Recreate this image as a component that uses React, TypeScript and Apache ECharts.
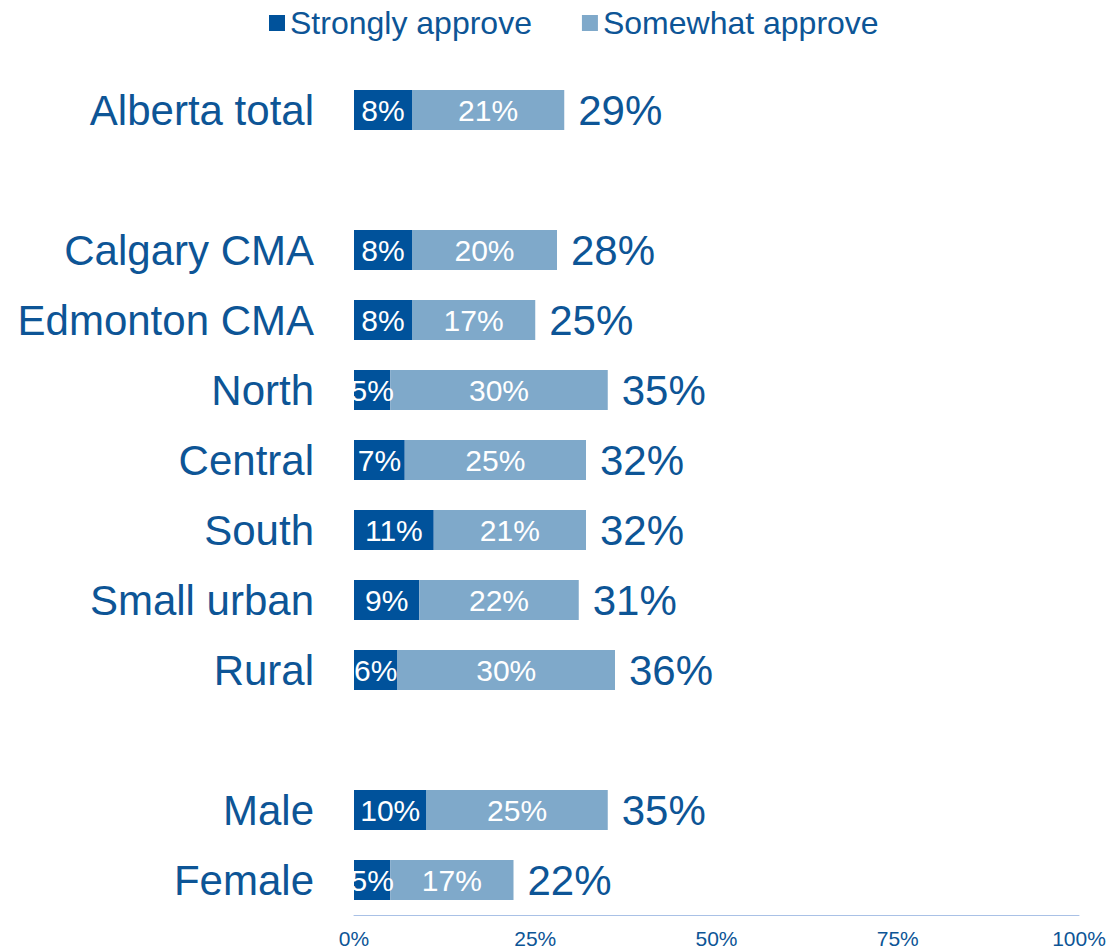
import React, { useEffect, useRef } from "react";
import * as echarts from "echarts";

const categories = [
  "Alberta total",
  " ",
  "Calgary CMA",
  "Edmonton CMA",
  "North",
  "Central",
  "South",
  "Small urban",
  "Rural",
  "  ",
  "Male",
  "Female",
];
const stronglyApprove = [8, null, 8, 8, 5, 7, 11, 9, 6, null, 10, 5];
const somewhatApprove = [21, null, 20, 17, 30, 25, 21, 22, 30, null, 25, 17];
const totals = [29, null, 28, 25, 35, 32, 32, 31, 36, null, 35, 22];
const xTicks = [0, 25, 50, 75, 100];

const TEXT = "#0D5596";
const DARK = "#00529B";
const LIGHT = "#7FA9CA";
const FONT = "'Liberation Sans', Arial, sans-serif";

export default function App() {
  const ref = useRef<HTMLDivElement>(null);
  useEffect(() => {
    if (!ref.current) return;
    const chart = echarts.init(ref.current, null, { renderer: "svg" });
    chart.setOption({
      animation: false,
      textStyle: { fontFamily: FONT },
      legend: {
        top: 2,
        left: 264,
        itemWidth: 16,
        itemHeight: 16,
        itemGap: 50,
        icon: "rect",
        textStyle: { fontSize: 32, color: TEXT, fontFamily: FONT, padding: [0, 0, 0, 0] },
        data: ["Strongly approve", "Somewhat approve"],
      },
      grid: { left: 354, right: 30, top: 75, bottom: 35, containLabel: false },
      xAxis: {
        type: "value",
        min: xTicks[0],
        max: xTicks[xTicks.length - 1],
        interval: 25,
        splitLine: { show: false },
        axisTick: { show: false },
        axisLine: { show: true, lineStyle: { color: "#A9C1E6", width: 1 } },
        axisLabel: {
          formatter: "{value}%",
          fontSize: 21,
          color: TEXT,
          margin: 13,
          fontFamily: FONT,
        },
      },
      yAxis: {
        type: "category",
        inverse: true,
        data: categories,
        axisLine: { show: false },
        axisTick: { show: false },
        axisLabel: { fontSize: 42, color: TEXT, margin: 40, fontFamily: FONT },
      },
      series: [
        {
          name: "Strongly approve",
          type: "bar",
          stack: "a",
          barWidth: 40,
          data: stronglyApprove,
          itemStyle: { color: DARK },
          label: {
            show: true,
            position: "inside",
            formatter: "{c}%",
            color: "#fff",
            fontSize: 30,
            fontFamily: FONT,
          },
        },
        {
          name: "Somewhat approve",
          type: "bar",
          stack: "a",
          barWidth: 40,
          data: somewhatApprove,
          itemStyle: { color: LIGHT },
          label: {
            show: true,
            position: "inside",
            formatter: "{c}%",
            color: "#fff",
            fontSize: 30,
            fontFamily: FONT,
          },
        },
        {
          name: "Total",
          type: "bar",
          barWidth: 40,
          barGap: "-100%",
          data: totals,
          z: 0,
          itemStyle: { color: "rgba(0,0,0,0)" },
          label: {
            show: true,
            position: "right",
            distance: 14,
            formatter: "{c}%",
            color: TEXT,
            fontSize: 42,
            fontFamily: FONT,
          },
          tooltip: { show: false },
        },
      ],
    });
    return () => chart.dispose();
  }, []);
  return (
    <div
      ref={ref}
      style={{ position: "absolute", left: 0, top: 0, width: 1109, height: 950 }}
    />
  );
}
